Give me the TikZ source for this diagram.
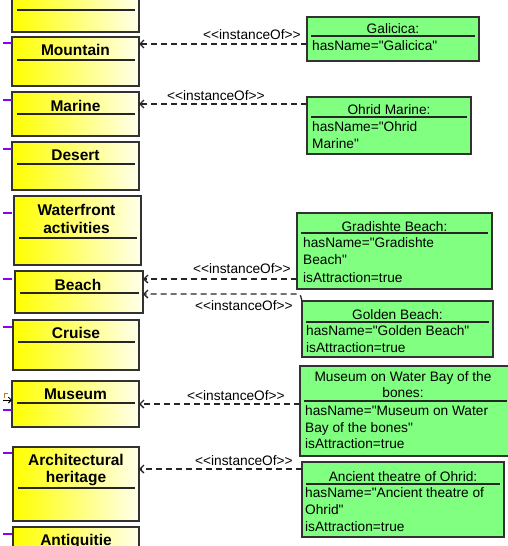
\documentclass[tikz,border=0pt]{standalone}
\usepackage{fontspec}
\setmainfont{Liberation Sans}[Ligatures=TeXOff]
\usetikzlibrary{arrows.meta,fit}
\definecolor{ybeg}{RGB}{255,255,0}
\definecolor{yend}{RGB}{255,255,235}
\definecolor{gfill}{RGB}{128,255,128}
\definecolor{bord}{RGB}{50,50,50}
\definecolor{tickc}{RGB}{136,0,255}
\definecolor{hookc}{RGB}{200,120,40}
\begin{document}
\begin{tikzpicture}[x=1pt,y=-1pt,
  ybox/.style={draw=bord,line width=1.3pt,left color=ybeg,right color=yend,inner sep=0pt,outer sep=0pt},
  gbox/.style={draw=bord,line width=1.3pt,fill=gfill,inner sep=0pt,outer sep=0pt},
  ytitle/.style={font=\fontsize{15.5}{18}\selectfont\bfseries,inner sep=0pt,anchor=base},
  gtitle/.style={font=\fontsize{13.7}{17}\selectfont,inner sep=0pt,anchor=base},
  gtext/.style={font=\fontsize{13.7}{17}\selectfont,inner sep=0pt,anchor=base west},
  lbl/.style={font=\fontsize{13.7}{17}\selectfont,inner sep=0pt,anchor=base west},
  sepline/.style={draw=black!85,line width=1.3pt},
  tickline/.style={draw=tickc,line width=2.4pt},
  inst/.style={draw=black!85,line width=1.3pt,dash pattern=on 6pt off 4pt,-{Straight Barb[length=4pt,width=8pt]}}]
\useasboundingbox (0,0) rectangle (507,546);

% ---------- yellow class boxes ----------
\node[ybox,fit={(12,-3) (139,32)}] (topbox) {};
\draw[sepline] (17,10) -- (135,10);

\node[ybox,fit={(12,37) (139,86)}] (mountain) {};
\node[ytitle] (mountainT) at (75.5,55) {Mountain};
\draw[sepline] (17,60) -- (135,60);

\node[ybox,fit={(12,92) (139,136)}] (marine) {};
\node[ytitle] (marineT) at (75.5,111) {Marine};
\draw[sepline] (17,114) -- (135,114);

\node[ybox,fit={(12,142) (139,190)}] (desert) {};
\node[ytitle] (desertT) at (75.5,160) {Desert};
\draw[sepline] (17,164) -- (135,164);

\node[ybox,fit={(14,196) (141,265)}] (water) {};
\node[ytitle] (waterT1) at (76.5,215) {Waterfront};
\node[ytitle] (waterT2) at (76.5,233) {activities};
\draw[sepline] (19,238) -- (137,238);

\node[ybox,fit={(15,271) (143,313)}] (beach) {};
\node[ytitle] (beachT) at (78,290) {Beach};
\draw[sepline] (20,293) -- (139,293);

\node[ybox,fit={(13,320) (139,370)}] (cruise) {};
\node[ytitle] (cruiseT) at (76,338) {Cruise};
\draw[sepline] (18,342) -- (135,342);

\node[ybox,fit={(12,381) (139,427)}] (museum) {};
\node[ytitle] (museumT) at (75.5,399) {Museum};
\draw[sepline] (17,403) -- (135,403);

\node[ybox,fit={(13,447) (139,521)}] (arch) {};
\node[ytitle] (archT1) at (76,465) {Architectural};
\node[ytitle] (archT2) at (76,482) {heritage};
\draw[sepline] (18,488) -- (135,488);

\node[ybox,fit={(13,527) (139,565)}] (antiq) {};
\node[ytitle] (antiqT) at (76,545) {Antiquitie};

% purple ticks
\foreach \ty in {43,100,149,213,279,327,410,453,534} {
  \draw[tickline] (3,\ty) -- (12,\ty);
}
% small mark left of Museum
\coordinate (mk) at (3,400);
\draw[draw=hookc,line width=1pt] (8,393.5) -- (4,393.5) -- (4,398);
\draw[line width=1pt,-{Straight Barb[length=3pt,width=6pt]}] (mk) -- (mk -| museum.west);

% ---------- green instance boxes ----------
\node[gbox,fit={(307,17) (479,61)}] (gal) {};
\node[gtitle] (galT) at (393,33) {Galicica:};
\draw[sepline] (311,36) -- (475,36);
\node[gtext] (galA) at (312,50) {hasName="Galicica"};

\node[gbox,fit={(307,97) (471,154)}] (ohrid) {};
\node[gtitle] (ohridT) at (389,114) {Ohrid Marine:};
\draw[sepline] (311,117) -- (467,117);
\node[gtext] (ohridA) at (312,131) {hasName="Ohrid};
\node[gtext] (ohridB) at (312,148) {Marine"};

\node[gbox,fit={(297,213) (492,289)}] (grad) {};
\node[gtitle] (gradT) at (394.5,231) {Gradishte Beach:};
\draw[sepline] (301,233) -- (488,233);
\node[gtext] (gradA) at (303,247) {hasName="Gradishte};
\node[gtext] (gradB) at (303,264) {Beach"};
\node[gtext] (gradC) at (303,282) {isAttraction=true};

\node[gbox,fit={(302,301) (493,357)}] (golden) {};
\node[gtitle] (goldenT) at (397.5,319) {Golden Beach:};
\draw[sepline] (306,322) -- (489,322);
\node[gtext] (goldenA) at (306,335) {hasName="Golden Beach"};
\node[gtext] (goldenB) at (306,352) {isAttraction=true};

\node[gbox,fit={(300,366) (510,456)}] (mwb) {};
\node[gtitle] (mwbT1) at (403,381) {Museum on Water Bay of the};
\node[gtitle] (mwbT2) at (403,397) {bones:};
\draw[sepline] (304,401) -- (507,401);
\node[gtext] (mwbA) at (305,415) {hasName="Museum on Water};
\node[gtext] (mwbB) at (305,432) {Bay of the bones"};
\node[gtext] (mwbC) at (305,448) {isAttraction=true};

\node[gbox,fit={(302,462) (504,537)}] (anc) {};
\node[gtitle] (ancT) at (403,481) {Ancient theatre of Ohrid:};
\draw[sepline] (306,484) -- (500,484);
\node[gtext] (ancA) at (305,497) {hasName="Ancient theatre of};
\node[gtext] (ancB) at (305,514) {Ohrid"};
\node[gtext] (ancC) at (305,531) {isAttraction=true};

% ---------- connectors ----------
\coordinate (y1) at (0,44);
\coordinate (y2) at (0,104);
\coordinate (y3) at (0,279);
\coordinate (y4) at (0,294);
\coordinate (y5) at (0,404);
\coordinate (y6) at (0,469);
\coordinate (gbend) at (298,294);

\draw[inst] (gal.west |- y1) -- (mountain.east |- y1);
\draw[inst] (ohrid.west |- y2) -- (marine.east |- y2);
\draw[inst] (grad.west |- y3) -- (beach.east |- y3);
\draw[inst] (golden.north west) to[out=110,in=0] (gbend) -- (beach.east |- y4);
\draw[inst] (mwb.west |- y5) -- (museum.east |- y5);
\draw[inst] (anc.west |- y6) -- (arch.east |- y6);

\node[lbl] (l1) at (203,39) {<<instanceOf>>};
\node[lbl] (l2) at (167,100) {<<instanceOf>>};
\node[lbl] (l3) at (193,273) {<<instanceOf>>};
\node[lbl] (l4) at (195,310) {<<instanceOf>>};
\node[lbl] (l5) at (187,400) {<<instanceOf>>};
\node[lbl] (l6) at (195,465) {<<instanceOf>>};
\end{tikzpicture}
\end{document}
